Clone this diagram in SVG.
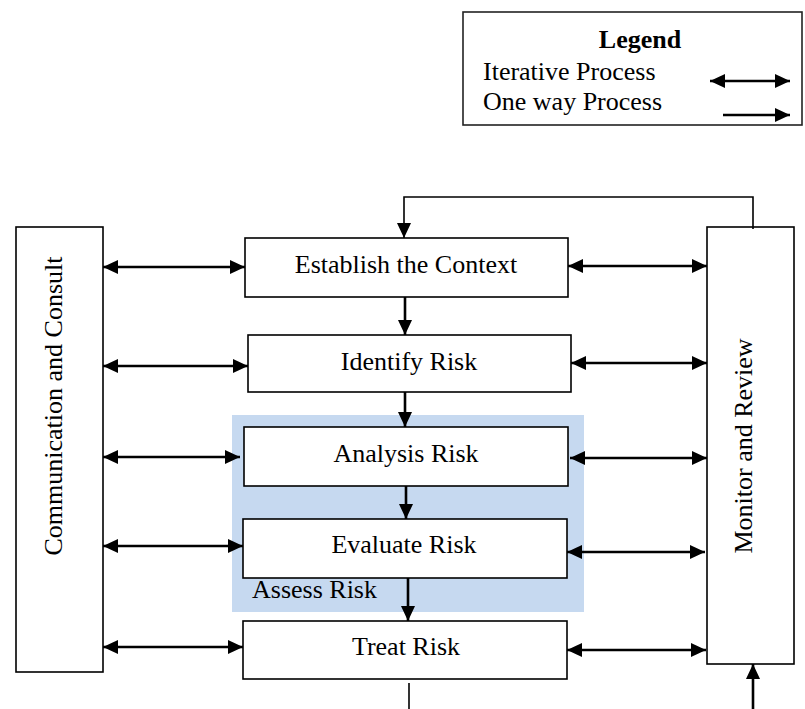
<svg xmlns="http://www.w3.org/2000/svg" width="805" height="709" viewBox="0 0 805 709">
<defs>
<marker id="ah" markerUnits="userSpaceOnUse" markerWidth="15" markerHeight="14" refX="15" refY="7" orient="auto-start-reverse" viewBox="0 0 15 14">
<path d="M0,0 L15,7 L0,14 z" fill="#000"/>
</marker>
</defs>
<style>
.box{fill:#fff;stroke:#000;stroke-width:1.6}
.t{font-family:"Liberation Serif","Times New Roman",serif;font-size:26px;fill:#000}
.c{text-anchor:middle}
.ln{fill:none;stroke:#000;stroke-width:2.6}
.thin{fill:none;stroke:#000;stroke-width:1.6}
.bi{marker-start:url(#ah);marker-end:url(#ah)}
.one{marker-end:url(#ah)}
</style>
<g id="legend">
<rect x="463" y="12" width="339" height="113" fill="#fff" stroke="#222" stroke-width="1.6"/>
<text x="640" y="48" class="t c" font-weight="bold" font-size="27">Legend</text>
<text x="483" y="80" class="t">Iterative Process</text>
<text x="483" y="110" class="t">One way Process</text>
<line x1="710" y1="81" x2="790" y2="81" class="ln bi"/>
<line x1="723" y1="115" x2="790" y2="115" class="ln one"/>
</g>
<g id="assess">
<rect x="232" y="415" width="352" height="197" fill="#c6d9f0"/>
<text x="252" y="598" class="t">Assess Risk</text>
</g>
<g id="communication">
<rect x="16" y="227" width="87" height="445" class="box"/>
<text transform="translate(62,406) rotate(-90)" class="t c">Communication and Consult</text>
</g>
<g id="monitor">
<rect x="707" y="227" width="87" height="437" class="box"/>
<text transform="translate(752,446) rotate(-90)" class="t c">Monitor and Review</text>
</g>
<g id="establish">
<rect x="245" y="238" width="323" height="59" class="box"/>
<text x="406" y="273" class="t c">Establish the Context</text>
</g>
<g id="identify">
<rect x="248" y="335" width="323" height="57" class="box"/>
<text x="409" y="370" class="t c">Identify Risk</text>
</g>
<g id="analysis">
<rect x="244" y="427" width="324" height="59" class="box"/>
<text x="406" y="462" class="t c">Analysis Risk</text>
</g>
<g id="evaluate">
<rect x="243" y="519" width="324" height="59" class="box"/>
<text x="404" y="553" class="t c">Evaluate Risk</text>
</g>
<g id="treat">
<rect x="243" y="621" width="324" height="58" class="box"/>
<text x="406" y="655" class="t c">Treat Risk</text>
</g>
<g id="connectors">
<polyline points="753,229 753,197 404,197 404,238" class="thin one"/>
<line x1="405" y1="297" x2="405" y2="335" class="ln one"/>
<line x1="405" y1="392" x2="405" y2="427" class="ln one"/>
<line x1="406" y1="486" x2="406" y2="519" class="ln one"/>
<line x1="408" y1="578" x2="408" y2="621" class="ln one"/>
<line x1="409" y1="683" x2="409" y2="709" class="thin"/>
<line x1="753" y1="709" x2="753" y2="664" class="ln one"/>
<line x1="103" y1="267" x2="245" y2="267" class="ln bi"/>
<line x1="103" y1="366" x2="248" y2="366" class="ln bi"/>
<line x1="103" y1="457" x2="240" y2="457" class="ln bi"/>
<line x1="103" y1="546" x2="243" y2="546" class="ln bi"/>
<line x1="103" y1="647" x2="243" y2="647" class="ln bi"/>
<line x1="568" y1="266" x2="707" y2="266" class="ln bi"/>
<line x1="571" y1="363" x2="707" y2="363" class="ln bi"/>
<line x1="570" y1="458" x2="707" y2="458" class="ln bi"/>
<line x1="567" y1="552" x2="705" y2="552" class="ln bi"/>
<line x1="567" y1="650" x2="706" y2="650" class="ln bi"/>
</g>
</svg>
